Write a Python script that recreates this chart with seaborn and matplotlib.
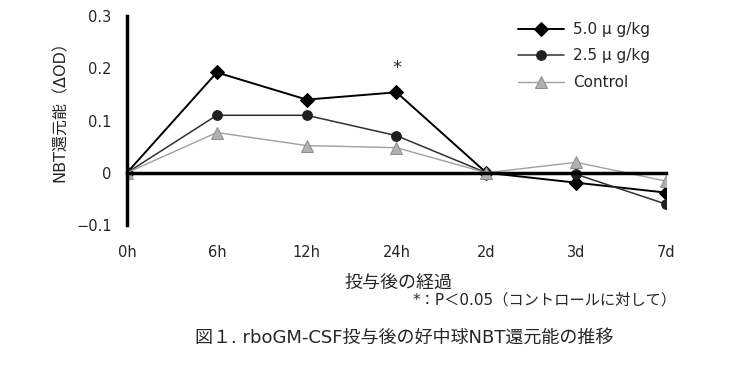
"""NBT reduction after rboGM-CSF dosing, line chart recreation."""

import matplotlib
matplotlib.use("Agg")
import matplotlib.pyplot as plt
import pandas as pd
import seaborn as sns

categories = ["0h", "6h", "12h", "24h", "2d", "3d", "7d"]
dose_50 = [0.0, 0.192, 0.140, 0.154, 0.0, -0.019, -0.038]
dose_25 = [0.0, 0.110, 0.110, 0.071, 0.0, -0.003, -0.060]
control = [0.0, 0.077, 0.052, 0.048, 0.0, 0.020, -0.016]
series_names = ["5.0 μ g/kg", "2.5 μ g/kg", "Control"]
y_ticks = [-0.1, 0, 0.1, 0.2, 0.3]
y_ticklabels = ["\u22120.1", "0", "0.1", "0.2", "0.3"]

sns.set_style("white")
plt.rcParams["font.family"] = ["DejaVu Sans", "Noto Sans CJK JP"]

fig = plt.figure(figsize=(7.4, 3.67), dpi=100)
ax = fig.add_axes([0.1716, 0.3869, 0.7284, 0.5695])

styles = [
    dict(color="black", marker="D", markersize=7, linewidth=1.4,
         markerfacecolor="black", markeredgecolor="black"),
    dict(color="#303030", marker="o", markersize=7, linewidth=1.1,
         markerfacecolor="#202020", markeredgecolor="#202020"),
    dict(color="#a0a0a0", marker="^", markersize=8, linewidth=1.0,
         markerfacecolor="#b0b0b0", markeredgecolor="#909090"),
]

for name, vals, st in zip(series_names, [dose_50, dose_25, control], styles):
    df = pd.DataFrame({"x": range(len(categories)), "y": vals})
    sns.lineplot(data=df, x="x", y="y", ax=ax, label=name, **st)

# significance mark
ax.text(3, 0.2, "*", ha="center", va="center", fontsize=13)

ax.set_xlim(0, len(categories) - 1)
ax.set_ylim(-0.1, 0.3)
ax.set_yticks(y_ticks)
ax.set_yticklabels(y_ticklabels)
ax.set_xticks(range(len(categories)))
ax.set_xticklabels(categories)

for side in ["top", "right"]:
    ax.spines[side].set_visible(False)
ax.spines["left"].set_linewidth(2.5)
ax.spines["bottom"].set_linewidth(2.5)
ax.spines["bottom"].set_position(("data", 0))
for sp in ax.spines.values():
    sp.set_color("black")

ax.tick_params(axis="y", direction="in", length=6, width=2,
               labelsize=10.5, pad=11)
ax.tick_params(axis="x", direction="in", length=6, width=2,
               labelsize=10.5, pad=52)

ax.set_xlabel("")
ax.set_ylabel("")

ax.legend(loc="upper left", bbox_to_anchor=(0.7, 0.94),
          bbox_transform=fig.transFigure, frameon=False, fontsize=11,
          handlelength=3.0, handletextpad=0.6, labelspacing=0.75,
          borderpad=0, borderaxespad=0)

fig.text(0.081, 0.708, "NBT還元能（ΔOD）", rotation=90, ha="center",
         va="center", fontsize=11.5)
fig.text(0.538, 0.229, "投与後の経過", ha="center", va="center", fontsize=13)
fig.text(0.915, 0.1826, "*：P＜0.05（コントロールに対して）", ha="right",
         va="center", fontsize=11)
fig.text(0.2635, 0.079, "図１. rboGM-CSF投与後の好中球NBT還元能の推移",
         ha="left", va="center", fontsize=13)

fig.savefig("out.png", dpi=100, facecolor="white")
